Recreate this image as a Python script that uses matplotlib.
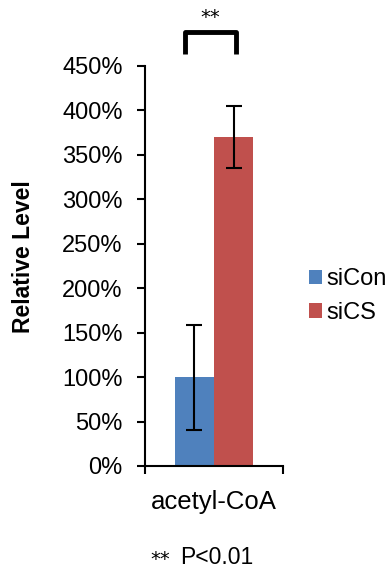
import matplotlib
matplotlib.use("Agg")
import matplotlib.pyplot as plt
import numpy as np

plt.rcParams['font.family'] = ['Liberation Sans', 'DejaVu Sans']

categories = ["acetyl-CoA"]
series = ["siCon", "siCS"]
values = [1.00, 3.70]
errors = [0.59, 0.35]
colors = ["#4F81BD", "#C0504D"]
yticks = [0, 0.5, 1.0, 1.5, 2.0, 2.5, 3.0, 3.5, 4.0, 4.5]

fig = plt.figure(figsize=(3.9, 5.72), dpi=100)
ax = fig.add_axes([145/390, 1-466/572, (283-145)/390, (466-66)/572])

w = 0.285
offs = [-w/2, w/2]
for i, (s, v, e, c) in enumerate(zip(series, values, errors, colors)):
    ax.bar(offs[i], v, width=w, color=c, label=s, zorder=2)
    ax.errorbar(offs[i], v, yerr=e, fmt='none', ecolor='black', elinewidth=1.5,
                capsize=6, capthick=1.5, zorder=3)

ax.set_xlim(-0.5, 0.5)
ax.set_ylim(0, 4.5)
ax.set_yticks(yticks)
ax.set_yticklabels([f"{int(round(t*100))}%" for t in yticks], fontsize=17)
ax.set_xticks([0])
ax.set_xticklabels(categories, fontsize=18.5)
ax.tick_params(axis='x', length=0, pad=17)
ax.set_xticks([-0.5, 0.5], minor=True)
ax.tick_params(axis='x', which='minor', length=6, width=1.5, direction='out')
ax.tick_params(axis='y', length=6, width=1.5, direction='out', pad=10)
for sp in ['top', 'right']:
    ax.spines[sp].set_visible(False)
for sp in ['left', 'bottom']:
    ax.spines[sp].set_linewidth(1.5)

fig.text(24/390, 1-257/572, "Relative Level", fontsize=16.5, fontweight='bold',
         rotation=90, ha='center', va='center')

# significance bracket
x1, x2 = offs[0] - 0.07, offs[1] + 0.02
ytop, ybot = 4.88, 4.64
ax.plot([x1, x1, x2, x2], [ybot, ytop, ytop, ybot], color='black', lw=3.5,
        clip_on=False, solid_joinstyle='round', solid_capstyle='butt')
ax.text((x1 + x2) / 2, 4.94, "**", ha='center', va='bottom', fontsize=14,
        family=['DejaVu Sans'])

ax.legend(loc='center left', bbox_to_anchor=(309/390, 1-296/572),
          bbox_transform=fig.transFigure, frameon=False,
          fontsize=17, handlelength=0.55, handleheight=0.55, handletextpad=0.2,
          labelspacing=0.5, borderaxespad=0, borderpad=0)

fig.text(150/390, 1-560/572, "**", fontsize=14, va='center', ha='left',
         family=['DejaVu Sans'])
fig.text(180/390, 1-558/572, "P<0.01", fontsize=16.5, va='center', ha='left')

fig.savefig("out.png", dpi=100)
